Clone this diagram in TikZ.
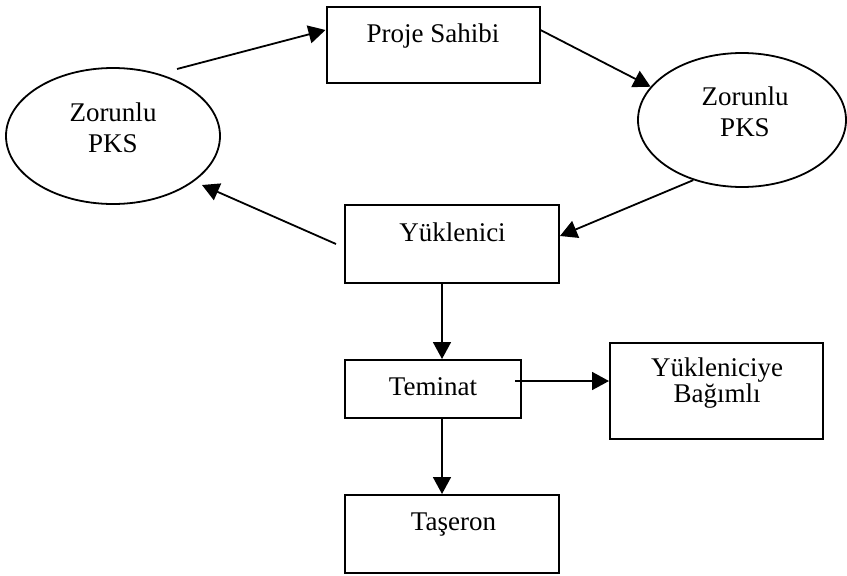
\documentclass[tikz,border=0pt]{standalone}
\usepackage{fontspec}
\setmainfont{Liberation Serif}
\usetikzlibrary{arrows.meta,shapes.geometric,calc}

\begin{document}
\begin{tikzpicture}[x=1pt,y=-1pt,
  box/.style={draw, line width=2pt, rectangle, inner sep=0pt},
  oval/.style={draw, line width=1.8pt, ellipse, inner sep=0pt},
  txt/.style={inner sep=0pt, font=\fontsize{27}{31}\selectfont, align=center},
  arr/.style={line width=1.8pt, -{Triangle[length=17pt,width=18pt]}}]
\useasboundingbox (0,0) rectangle (847,576);

% ellipses
\node[oval, minimum width=214pt, minimum height=136pt] (lpks) at (113,136) {};
\node[oval, minimum width=208pt, minimum height=134pt] (rpks) at (742,120) {};
\node[txt] (lpksT) at (113,127.5) {Zorunlu\\PKS};
\node[txt] (rpksT) at (745,111.5) {Zorunlu\\PKS};

% boxes
\node[box, minimum width=213pt, minimum height=76pt] (proje) at (433,45) {};
\node[box, minimum width=214pt, minimum height=78pt] (yuk) at (452,244) {};
\node[box, minimum width=176pt, minimum height=58pt] (tem) at (433,389) {};
\node[box, minimum width=213pt, minimum height=96pt] (yb) at (716.5,391) {};
\node[box, minimum width=214pt, minimum height=78pt] (tas) at (452,534) {};

% box labels
\node[txt, anchor=base] (projeT) at (433,42) {Proje Sahibi};
\node[txt, anchor=base] (yukT) at (452.5,241) {Yüklenici};
\node[txt, anchor=base] (temT) at (433,395) {Teminat};
\node[txt, anchor=base] (tasT) at (453.5,530) {Taşeron};
\node[txt, font=\fontsize{27}{26}\selectfont] (ybT) at (717,383.5) {Yükleniciye\\Bağımlı};

% free ends of the two arrows around the left ellipse
\coordinate (a1s) at (177,69);
\coordinate (a4e) at (202,185);

% connectors
\draw[arr] (a1s) -- ([yshift=15pt]proje.west);
\draw[arr] ([yshift=15pt]proje.east) -- (rpks.160);
\draw[arr] (rpks.231) -- ([yshift=8pt]yuk.east);
\draw[arr] ([xshift=-8pt]yuk.west) -- (a4e);
\draw[arr] ([xshift=-10pt]yuk.south) -- ([xshift=-10pt]yuk.south |- tem.north);
\draw[arr] ([xshift=-7pt,yshift=8pt]tem.east) -- ([yshift=8pt]tem.east -| yb.west);
\draw[arr] ([xshift=-10pt]yuk.south |- tem.south) -- ([xshift=-10pt]yuk.south |- tas.north);
\end{tikzpicture}
\end{document}
